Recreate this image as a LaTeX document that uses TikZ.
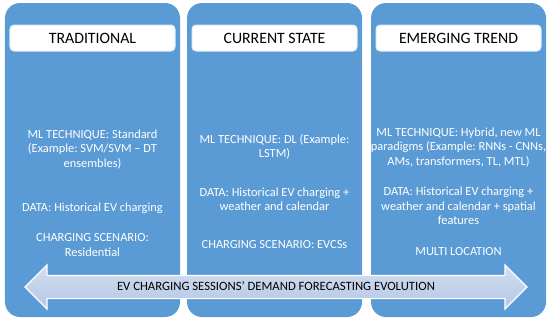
\documentclass[tikz,border=0pt]{standalone}
\usepackage{fontspec}
\setmainfont{Carlito}
\usetikzlibrary{shapes.arrows}
\definecolor{panelblue}{HTML}{5B9BD5}
\definecolor{arrowtop}{HTML}{D3DEEF}
\definecolor{arrowbot}{HTML}{B4C7E5}
\frenchspacing

\begin{document}
\begin{tikzpicture}[x=1bp,y=-1bp,inner sep=0pt,outer sep=0pt,
panel/.style={fill=panelblue,rounded corners=15bp,minimum width=175bp,minimum height=314bp},
header/.style={fill=white,draw=white!80!panelblue,line width=1bp,rounded corners=4bp,minimum width=165bp,minimum height=26bp,font=\fontsize{15.8bp}{17bp}\selectfont},
body/.style={text=white,align=center,font=\fontsize{12.4bp}{14.5bp}\selectfont}]

\useasboundingbox (0,0) rectangle (550,323);

%%% Three stages %%%%%
\draw (92.5,160) node[panel] (trad) {};
\draw (274.5,160) node[panel] (curr) {};
\draw (458.5,160) node[panel] (emer) {};

	%%% Headers
	\draw (trad.north) ++(0,35) node[header] (tradhead) {TRADITIONAL};
	\draw (curr.north) ++(0,35) node[header] (currhead) {CURRENT STATE};
	\draw (emer.north) ++(0,35) node[header] (emerhead) {EMERGING TREND};
%%%%%%%%%%%%%%%%%%%%%%%%%

%%% Traditional
\draw (92.5,149.5) node[body] (tradml) {ML TECHNIQUE: Standard\\(Example: SVM/SVM -- DT\\ensembles)};
\draw (92.5,208) node[body] (traddata) {DATA: Historical EV charging};
\draw (92.5,245) node[body] (tradscen) {CHARGING SCENARIO:\\Residential};

%%% Current state
\draw (274.5,147) node[body] (currml) {ML TECHNIQUE: DL (Example:\\LSTM)};
\draw (274.5,199) node[body] (currdata) {DATA: Historical EV charging +\\weather and calendar};
\draw (274.5,245) node[body] (currscen) {CHARGING SCENARIO: EVCSs};

%%% Emerging trend
\draw (458.5,147.5) node[body] (emerml) {ML TECHNIQUE: Hybrid, new ML\\paradigms (Example: RNNs - CNNs,\\AMs, transformers, TL, MTL)};
\draw (458.5,206) node[body] (emerdata) {DATA: Historical EV charging +\\weather and calendar + spatial\\features};
\draw (458.5,252) node[body] (emerscen) {MULTI LOCATION};

%%% Evolution arrow across the stages
\draw (276,287) node[double arrow,draw=white,line width=1.2bp,top color=arrowtop,bottom color=arrowbot,
	minimum height=502bp,minimum width=43bp,double arrow head extend=10.5bp,
	text height=8.5bp,text depth=2.5bp,inner ysep=5.5bp,
	font=\fontsize{12.7bp}{14bp}\selectfont] (evo) {EV CHARGING SESSIONS’ DEMAND FORECASTING EVOLUTION};

\end{tikzpicture}
\end{document}
